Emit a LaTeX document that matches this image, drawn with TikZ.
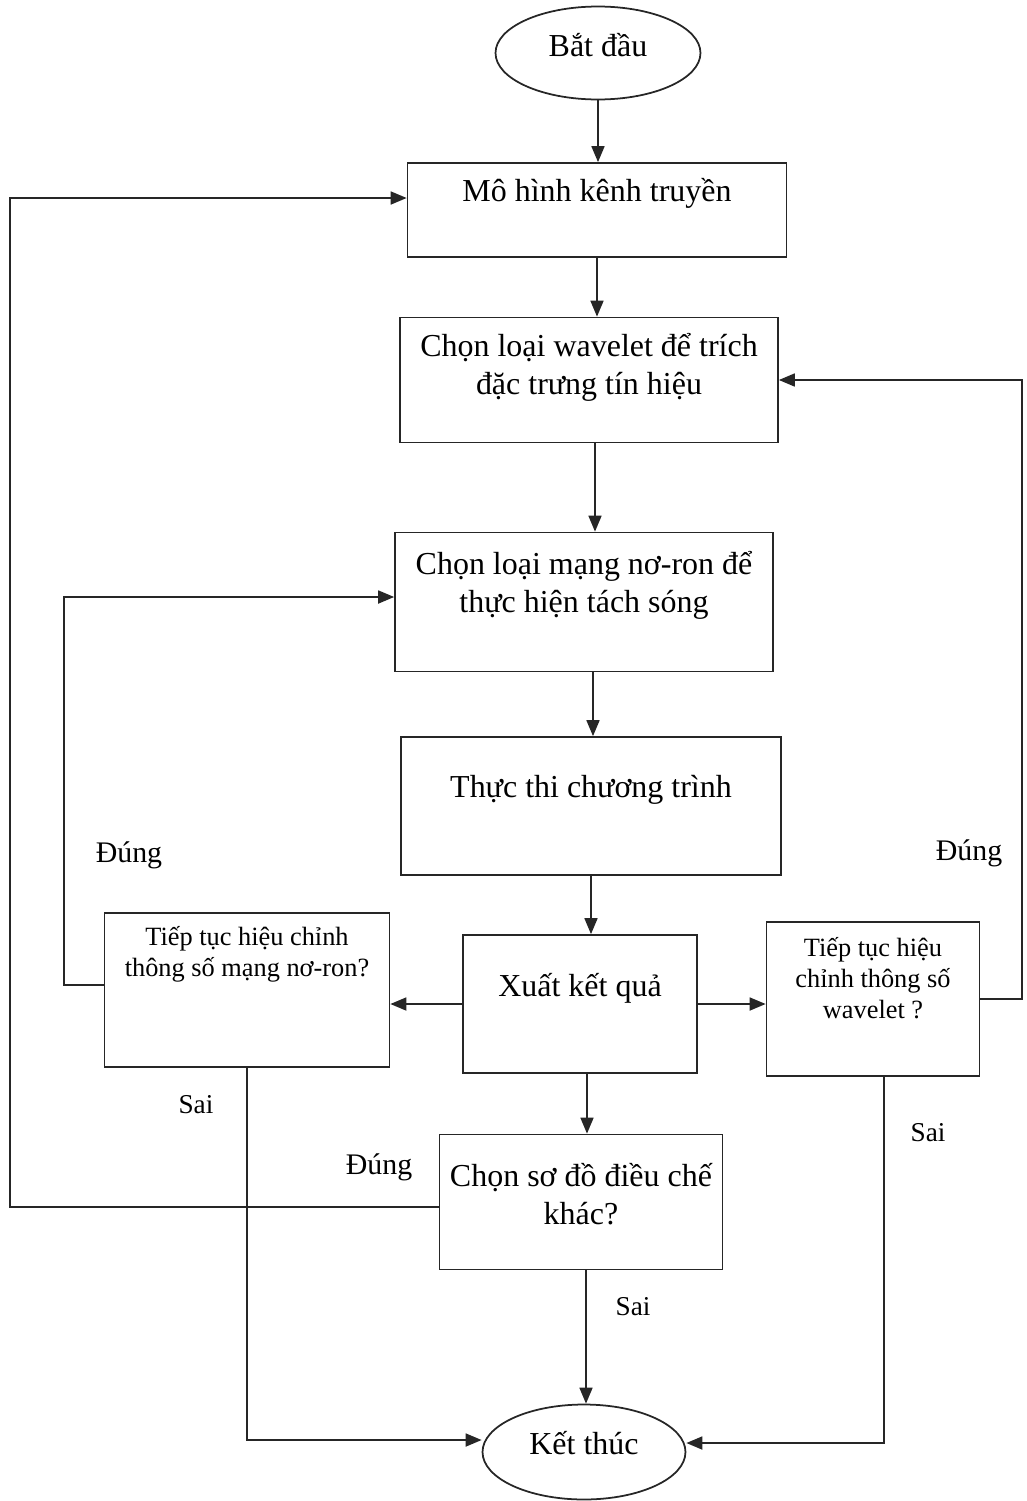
\documentclass[tikz,border=0pt]{standalone}
\usepackage{fontspec}
\setmainfont{Liberation Serif}
\usetikzlibrary{arrows.meta, positioning, shapes.geometric, calc}

\begin{document}
\begin{tikzpicture}[x=0.02cm, y=-0.02cm,
      box/.style={draw=black!85, line width=1pt, rectangle, align=center, inner sep=2pt, font=\fontsize{18.2}{21.5}\selectfont},
      askbox/.style={box, font=\fontsize{15}{17.6}\selectfont},
      term/.style={draw=black!85, line width=1pt, ellipse, inner sep=0pt, font=\fontsize{18.2}{21.5}\selectfont},
      lift/.style={text depth=#1},
      flow/.style={-{Triangle[length=3.2mm, width=2.6mm]}, line width=1pt, black!85},
      yes/.style={font=\fontsize{17}{20}\selectfont},
      no/.style={font=\fontsize{15.5}{18}\selectfont}
    ]
      \useasboundingbox (0,0) rectangle (1027,1501);

      % Main column
      \node[term, minimum width=4.1cm, minimum height=1.86cm, lift=0.32cm] (start) at (598,53) {Bắt đầu};
      \node[box, minimum width=7.58cm, minimum height=1.88cm, lift=0.81cm] (model) at (597,210) {Mô hình kênh truyền};
      \node[box, minimum width=7.56cm, minimum height=2.5cm, lift=0.65cm] (wavelet) at (589,380) {Chọn loại wavelet để trích\\đặc trưng tín hiệu};
      \node[box, minimum width=7.56cm, minimum height=2.78cm, lift=0.81cm] (neural) at (584,602) {Chọn loại mạng nơ-ron để\\thực hiện tách sóng};
      \node[box, minimum width=7.6cm, minimum height=2.76cm, lift=0.77cm] (run) at (591,806) {Thực thi chương trình};
      \node[box, minimum width=4.68cm, minimum height=2.76cm, lift=0.77cm] (result) at (580,1004) {Xuất kết quả};

      % Decision boxes
      \node[askbox, minimum width=5.7cm, minimum height=3.08cm, lift=1.53cm] (askneural) at (247,990) {Tiếp tục hiệu chỉnh\\thông số mạng nơ-ron?};
      \node[askbox, minimum width=4.26cm, minimum height=3.08cm, lift=0.85cm] (askwave) at (873,999) {Tiếp tục hiệu\\chỉnh thông số\\wavelet ?};
      \node[box, minimum width=5.66cm, minimum height=2.7cm, lift=0.33cm] (askmod) at (581,1202) {Chọn sơ đồ điều chế\\khác?};
      \node[term, minimum width=4.06cm, minimum height=1.9cm, lift=0.36cm] (finish) at (584,1452) {Kết thúc};

      % Outer rails
      \coordinate (leftrail) at (10,0);
      \coordinate (rightrail) at (1022,0);

      % Straight flow
      \draw[flow] (start) -- (start |- model.north);
      \draw[flow] (model) -- (model |- wavelet.north);
      \draw[flow] ([xshift=1.2mm]wavelet.south) -- ([xshift=1.2mm]wavelet.south |- neural.north);
      \draw[flow] ([xshift=1.8mm]neural.south) -- ([xshift=1.8mm]neural.south |- run.north);
      \draw[flow] (run) -- (run |- result.north);
      \draw[flow] ([xshift=1.4mm]result.south) -- ([xshift=1.4mm]result.south |- askmod.north);
      \draw[flow] ([xshift=1mm]askmod.south) -- ([xshift=1mm]askmod.south |- finish.north);

      % Result to both questions
      \draw[flow] (result.west) -- (result.west -| askneural.east);
      \draw[flow] (result.east) -- (result.east -| askwave.west);

      % Loops back
      \draw[flow] ([yshift=1mm]askneural.west) -- ++(-40,0) |- ([yshift=1mm]neural.west);
      \draw[flow] (askwave.east) -- (askwave.east -| rightrail) |- (wavelet.east);
      \draw[flow] ([yshift=-1mm]askmod.west) -- ([yshift=-1mm]askmod.west -| leftrail) |- ([yshift=2.4mm]model.west);

      % Exits to the end
      \draw[flow] (askneural.south) |- ([yshift=2.4mm]finish.west);
      \draw[flow] ([xshift=2.2mm]askwave.south) |- ([yshift=1.8mm]finish.east);

      % Branch labels
      \node[yes] (yesneural) at (129,855) {Đúng};
      \node[yes] (yeswave) at (969,853) {Đúng};
      \node[yes] (yesmod) at (379,1167) {Đúng};
      \node[no] (noneural) at (196,1105) {Sai};
      \node[no] (nowave) at (928,1133) {Sai};
      \node[no] (nomod) at (633,1307) {Sai};

    \end{tikzpicture}
\end{document}
